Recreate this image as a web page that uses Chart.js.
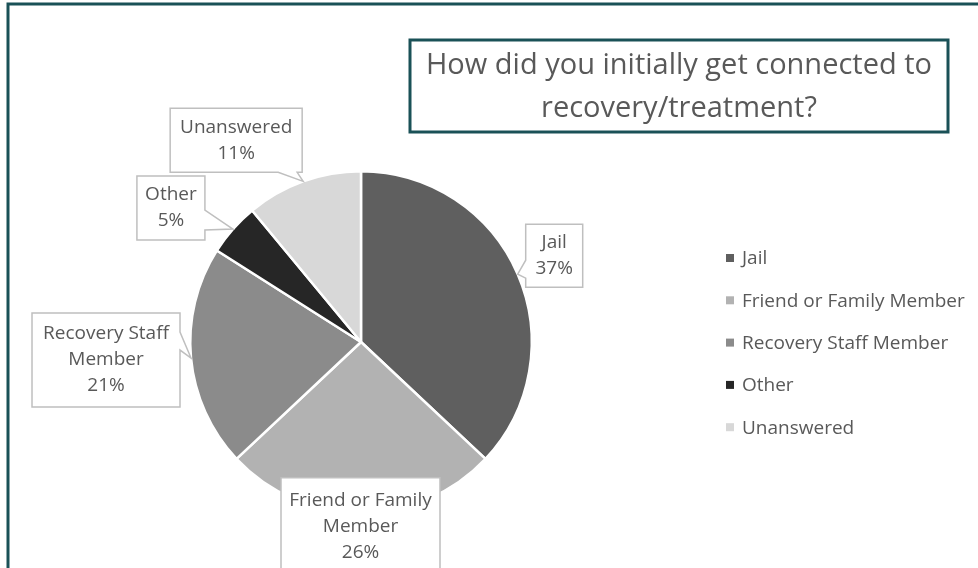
<!DOCTYPE html>
<html>
<head>
<meta charset="utf-8">
<script src="https://cdn.jsdelivr.net/npm/chart.js@4.4.1/dist/chart.umd.min.js"></script>
<style>
  html, body { margin: 0; padding: 0; background: #fff; }
  canvas { display: block; }
</style>
</head>
<body>
<canvas id="pieChart" width="978" height="568"></canvas>
<script>
// survey answers, in percent
var categories = ['Jail', 'Friend or Family Member', 'Recovery Staff Member', 'Other', 'Unanswered'];
var shares = [37, 26, 21, 5, 11];
// how each callout breaks the category name onto lines
var calloutLines = [['Jail'], ['Friend or Family', 'Member'], ['Recovery Staff', 'Member'], ['Other'], ['Unanswered']];
var sliceColors = ['#5f5f5f', '#b2b2b2', '#8b8b8b', '#262626', '#d8d8d8'];
var titleLines = ['How did you initially get connected to', 'recovery/treatment?'];

var FONT = '"Open Sans", "Noto Sans", sans-serif';
var TEXT_GREY = '#595959';
var TEAL = '#1a5157';

// callout boxes, placed relative to where each slice's mid-angle meets the rim.
// side = edge of the box that carries the pointer, p0/p1 = pointer base along that edge
var callouts = [
  {dx: 8, dy: -50, w: 57, h: 63, side: 'left', p0: -14, p1: 4},
  {dx: -80, dy: -35, w: 159, h: 98, side: null},
  {dx: -159, dy: -45, w: 148, h: 94, side: 'right', p0: -26, p1: -8},
  {dx: -96, dy: -53, w: 68, h: 64, side: 'right', p0: -19, p1: 1},
  {dx: -133, dy: -73, w: 132, h: 64, side: 'bottom', p0: -25, p1: -6}
];

function calloutPath(ctx, x, y, w, h, c, ax, ay) {
  ctx.beginPath();
  ctx.moveTo(x, y);
  ctx.lineTo(x + w, y);
  if (c.side === 'right') {
    ctx.lineTo(x + w, ay + c.p0);
    ctx.lineTo(ax, ay);
    ctx.lineTo(x + w, ay + c.p1);
  }
  ctx.lineTo(x + w, y + h);
  if (c.side === 'bottom') {
    ctx.lineTo(ax + c.p1, y + h);
    ctx.lineTo(ax, ay);
    ctx.lineTo(ax + c.p0, y + h);
  }
  ctx.lineTo(x, y + h);
  if (c.side === 'left') {
    ctx.lineTo(x, ay + c.p1);
    ctx.lineTo(ax, ay);
    ctx.lineTo(x, ay + c.p0);
  }
  ctx.closePath();
}

var decorations = {
  id: 'decorations',
  afterDraw: function(chart) {
    var ctx = chart.ctx;
    var arcs = chart.getDatasetMeta(0).data;
    var total = shares.reduce(function(a, b) { return a + b; }, 0);

    // data callouts
    ctx.save();
    ctx.font = '19px ' + FONT;
    ctx.textAlign = 'center';
    ctx.textBaseline = 'middle';
    arcs.forEach(function(arc, i) {
      var p = arc.getProps(['x', 'y', 'startAngle', 'endAngle', 'outerRadius'], true);
      var mid = (p.startAngle + p.endAngle) / 2;
      var ax = p.x + Math.cos(mid) * p.outerRadius;
      var ay = p.y + Math.sin(mid) * p.outerRadius;
      var c = callouts[i];
      var bx = ax + c.dx, by = ay + c.dy;
      calloutPath(ctx, bx, by, c.w, c.h, c, ax, ay);
      ctx.fillStyle = '#fff';
      ctx.fill();
      ctx.strokeStyle = '#bfbfbf';
      ctx.lineWidth = 1.5;
      ctx.stroke();

      var lines = calloutLines[i].concat([Math.round(shares[i] / total * 100) + '%']);
      var lh = 26;
      var cy = by + c.h / 2 - (lines.length - 1) * lh / 2;
      ctx.fillStyle = TEXT_GREY;
      lines.forEach(function(t, k) {
        ctx.fillText(t, bx + c.w / 2, cy + k * lh);
      });
    });
    ctx.restore();

    // legend on the right
    ctx.save();
    ctx.font = '19px ' + FONT;
    ctx.textAlign = 'left';
    ctx.textBaseline = 'middle';
    categories.forEach(function(name, i) {
      var y = 258 + i * 42.3;
      ctx.fillStyle = sliceColors[i];
      ctx.fillRect(726, y - 4, 8, 8);
      ctx.fillStyle = TEXT_GREY;
      ctx.fillText(name, 742, y + 1);
    });
    ctx.restore();

    // boxed title
    ctx.save();
    ctx.strokeStyle = TEAL;
    ctx.lineWidth = 3;
    ctx.strokeRect(410, 40, 538, 92);
    ctx.font = '29px ' + FONT;
    ctx.fillStyle = TEXT_GREY;
    ctx.textAlign = 'center';
    ctx.textBaseline = 'alphabetic';
    ctx.fillText(titleLines[0], 679, 74);
    ctx.fillText(titleLines[1], 679, 117);
    ctx.restore();

    // frame along the top and left
    ctx.save();
    ctx.strokeStyle = TEAL;
    ctx.lineWidth = 3;
    ctx.beginPath();
    ctx.moveTo(8, 568);
    ctx.lineTo(8, 4);
    ctx.lineTo(978, 4);
    ctx.stroke();
    ctx.restore();
  }
};

new Chart(document.getElementById('pieChart').getContext('2d'), {
  type: 'pie',
  data: {
    labels: categories,
    datasets: [{
      data: shares,
      backgroundColor: sliceColors,
      borderColor: '#ffffff',
      borderWidth: 2.5
    }]
  },
  options: {
    responsive: false,
    animation: false,
    layout: { padding: { left: 189, right: 445, top: 170, bottom: 54 } },
    plugins: {
      legend: { display: false },
      tooltip: { enabled: false }
    }
  },
  plugins: [decorations]
});
</script>
</body>
</html>
